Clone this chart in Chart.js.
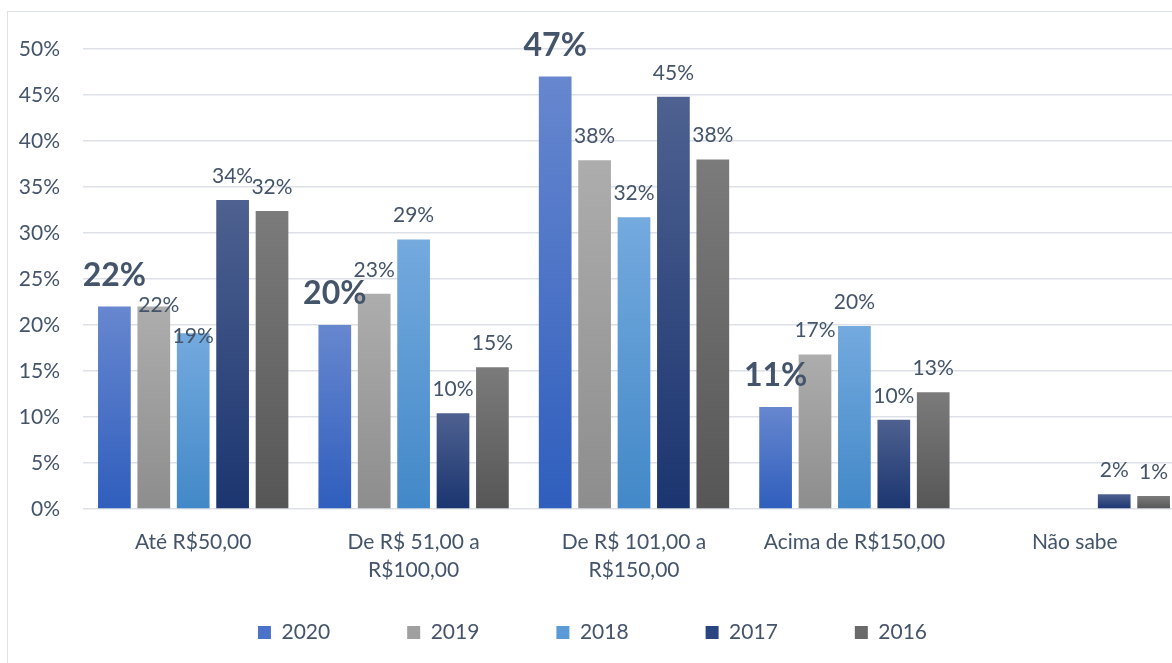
<!DOCTYPE html>
<html>
<head>
<meta charset="utf-8">
<script src="https://cdn.jsdelivr.net/npm/chart.js@4"></script>
<style>
  body { margin: 0; background: #fff; overflow: hidden; }
  #frame { position: absolute; left: 7px; top: 11px; width: 1200px; height: 700px; border: 1px solid #dde2e8; }
  #myChart { position: absolute; left: 0; top: 0; }
</style>
</head>
<body>
<div id="frame"></div>
<!-- a little wider than the window: the original chart is cropped on the right -->
<canvas id="myChart" width="1185" height="663"></canvas>
<script>
// chart data
var categories = ['Até R$50,00', ['De R$ 51,00 a', 'R$100,00'], ['De R$ 101,00 a', 'R$150,00'], 'Acima de R$150,00', 'Não sabe'];
var years = ['2020', '2019', '2018', '2017', '2016'];
var v2020 = [22.0, 20.0, 47.0, 11.1, null];
var v2019 = [22.0, 23.4, 37.9, 16.8, null];
var v2018 = [19.1, 29.3, 31.7, 19.9, null];
var v2017 = [33.6, 10.4, 44.8, 9.7, 1.6];
var v2016 = [32.4, 15.4, 38.0, 12.7, 1.4];
var yTicks = [0, 5, 10, 15, 20, 25, 30, 35, 40, 45, 50];

var textColor = '#44546A';
Chart.defaults.font.family = 'Lato';

// top / bottom / legend colour for each series
var colors = [
    ['#6787cf', '#2f5ebd', '#4a72c8'],
    ['#adadad', '#8d8d8d', '#a0a0a0'],
    ['#74aade', '#4288c8', '#5a9ad6'],
    ['#4e6190', '#1b3570', '#2a4580'],
    ['#7b7b7b', '#565656', '#6a6a6a']
];

// a couple of labels that Excel nudged down onto the bar (dataset,index -> dx,dy)
var labelShift = { '1,0': [5, 22], '2,0': [0, 27] };

// vertical gradient per bar, lighter on top
function barGradient(top, bottom) {
    return function(ctx) {
        var chart = ctx.chart;
        if (ctx.type !== 'data' || !chart.chartArea || ctx.raw == null) return bottom;
        var y = chart.scales.y;
        var y0 = y.getPixelForValue(ctx.raw);
        var y1 = y.getPixelForValue(0);
        if (!isFinite(y0) || y1 - y0 < 1) return bottom;
        var g = chart.ctx.createLinearGradient(0, y0, 0, y1);
        g.addColorStop(0, top);
        g.addColorStop(1, bottom);
        return g;
    };
}

// value labels above the bars, 2020 in large bold
var valueLabels = {
    id: 'valueLabels',
    afterDatasetsDraw: function(chart) {
        var ctx = chart.ctx;
        ctx.save();
        ctx.fillStyle = textColor;
        ctx.textAlign = 'center';
        ctx.textBaseline = 'alphabetic';
        chart.data.datasets.forEach(function(ds, di) {
            var meta = chart.getDatasetMeta(di);
            var big = di === 0;
            ctx.font = big ? 'bold 32px Lato' : '21px Lato';
            meta.data.forEach(function(bar, i) {
                var v = ds.data[i];
                if (v == null) return;
                var s = labelShift[di + ',' + i] || [0, 0];
                ctx.fillText(Math.round(v) + '%', bar.x + s[0], bar.y - (big ? 21 : 17) + s[1]);
            });
        });
        ctx.restore();
    }
};

var series = [v2020, v2019, v2018, v2017, v2016];
var datasets = [];
for (var i = 0; i < years.length; i++) {
    datasets.push({
        label: years[i],
        data: series[i],
        backgroundColor: barGradient(colors[i][0], colors[i][1]),
        borderWidth: 0,
        barPercentage: 0.83,
        categoryPercentage: 0.894
    });
}

var myChart = new Chart(document.getElementById('myChart'), {
    type: 'bar',
    data: { labels: categories, datasets: datasets },
    plugins: [valueLabels],
    options: {
        responsive: false,
        devicePixelRatio: 1,
        animation: false,
        layout: { padding: { top: 49, right: 0, bottom: 10, left: 0 } },
        plugins: {
            tooltip: { enabled: false },
            legend: {
                position: 'bottom',
                labels: {
                    color: textColor,
                    font: { size: 21 },
                    boxWidth: 13,
                    boxHeight: 13,
                    padding: 77,
                    generateLabels: function(chart) {
                        var items = Chart.defaults.plugins.legend.labels.generateLabels(chart);
                        items.forEach(function(it, k) {
                            it.fillStyle = colors[k][2];
                            it.strokeStyle = colors[k][2];
                            it.lineWidth = 0;
                        });
                        return items;
                    }
                }
            }
        },
        scales: {
            x: {
                grid: { display: false },
                border: { display: false },
                ticks: {
                    color: textColor,
                    font: { size: 21, lineHeight: '28px' },
                    // mirror keeps the labels from being clipped to the short axis box,
                    // negative padding pushes them back below the axis
                    mirror: true,
                    padding: -47,
                    maxRotation: 0,
                    autoSkip: false
                },
                afterFit: function(scale) { scale.height = 36; }
            },
            y: {
                min: 0,
                max: 50,
                grid: { color: '#dde1e7', lineWidth: 1.5, drawTicks: false },
                border: { display: false },
                afterBuildTicks: function(scale) {
                    scale.ticks = yTicks.map(function(v) { return { value: v }; });
                },
                ticks: {
                    color: textColor,
                    font: { size: 21 },
                    padding: 23,
                    callback: function(v) { return v + '%'; }
                },
                afterFit: function(scale) { scale.width = 83; }
            }
        }
    }
});
</script>
</body>
</html>
